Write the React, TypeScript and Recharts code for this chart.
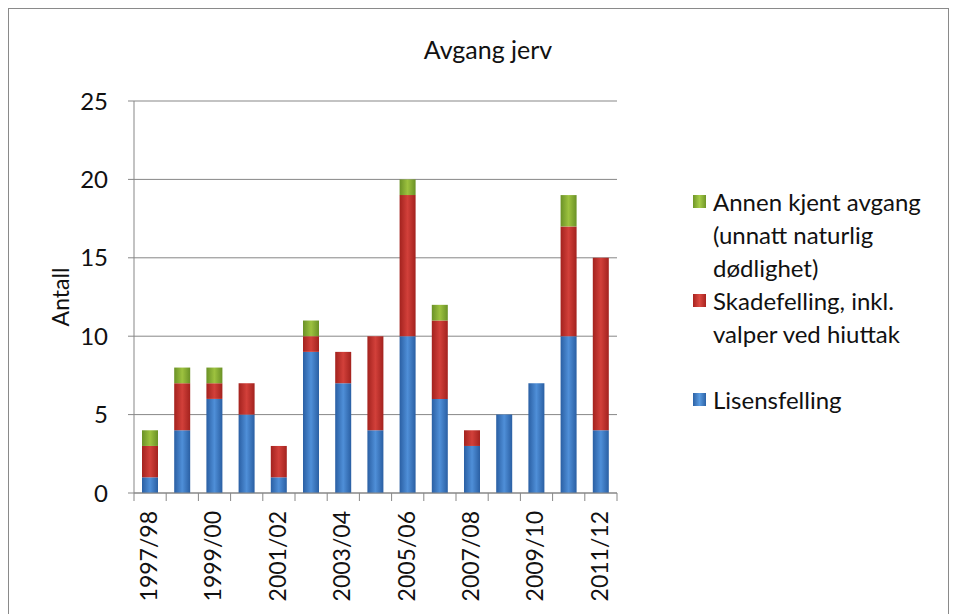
import React from "react";
import {
  BarChart,
  Bar,
  XAxis,
  YAxis,
  CartesianGrid,
  Label,
} from "recharts";

// sesonger (jaktår)
const seasons = [
  "1997/98", "1998/99", "1999/00", "2000/01", "2001/02",
  "2002/03", "2003/04", "2004/05", "2005/06", "2006/07",
  "2007/08", "2008/09", "2009/10", "2010/11", "2011/12",
];

// antall per kategori, lest av figuren
const lisensfelling = [1, 4, 6, 5, 1, 9, 7, 4, 10, 6, 3, 5, 7, 10, 4];
const skadefelling = [2, 3, 1, 2, 2, 1, 2, 6, 9, 5, 1, 0, 0, 7, 11];
const annenAvgang = [1, 1, 1, 0, 0, 1, 0, 0, 1, 1, 0, 0, 0, 2, 0];

const yTicks = [0, 5, 10, 15, 20, 25];

const data = seasons.map((s, i) => ({
  season: s,
  lisens: lisensfelling[i],
  skade: skadefelling[i],
  annen: annenAvgang[i],
}));

const FONT = "Lato, 'Open Sans', sans-serif";
const AXIS = "#878787";

const CHART_W = 939;
const MARGIN = { top: 92, right: 331, bottom: 30, left: 0 };
const Y_W = 125;
const BAND = (CHART_W - MARGIN.right - MARGIN.left - Y_W) / seasons.length;

const legendItems = [
  { key: "annen", c1: "#6f9628", c2: "#a6cc48", lines: ["Annen kjent avgang", "(unnatt naturlig", "dødlighet)"], rows: 3 },
  { key: "skade", c1: "#a8231f", c2: "#db4a42", lines: ["Skadefelling, inkl.", "valper ved hiuttak"], rows: 3 },
  { key: "lisens", c1: "#2c62a6", c2: "#5a9be0", lines: ["Lisensfelling"], rows: 1 },
];

const LINE = 33;

function CustomLegend() {
  return (
    <div
      style={{
        position: "absolute",
        left: 681,
        top: 176,
        width: 260,
        fontFamily: FONT,
        fontSize: 24,
        color: "#111",
      }}
    >
      {legendItems.map((it) => (
        <div key={it.key} style={{ position: "relative", height: it.rows * LINE, paddingLeft: 23 }}>
          <span
            style={{
              position: "absolute",
              left: 3,
              top: 10,
              width: 13,
              height: 13,
              background: `linear-gradient(to right, ${it.c1}, ${it.c2} 50%, ${it.c1})`,
            }}
          />
          {it.lines.map((l) => (
            <div key={l} style={{ height: LINE, lineHeight: `${LINE}px`, whiteSpace: "nowrap" }}>{l}</div>
          ))}
        </div>
      ))}
    </div>
  );
}

// tick mellom kategoriene (Excel-stil) + hver andre etikett
function SeasonTick(props: any) {
  const { x, y, payload, index } = props;
  const left = x - BAND / 2;
  const ty = y + 18;
  return (
    <g>
      <line x1={left} x2={left} y1={y} y2={y + 8} stroke={AXIS} />
      {index === seasons.length - 1 && (
        <line x1={x + BAND / 2} x2={x + BAND / 2} y1={y} y2={y + 8} stroke={AXIS} />
      )}
      {index % 2 === 0 && (
        <text
          x={x}
          y={ty}
          transform={`rotate(-90, ${x}, ${ty})`}
          textAnchor="end"
          dy="0.3em"
          fontFamily={FONT}
          fontSize={23}
          fill="#111"
        >
          {payload.value}
        </text>
      )}
    </g>
  );
}

export default function App() {
  return (
    <div
      style={{
        position: "relative",
        width: 941,
        height: 640,
        border: "1px solid #8a8a8a",
        background: "#fff",
        boxSizing: "border-box",
      }}
    >
      <div
        style={{
          position: "absolute",
          left: 0,
          width: 958,
          top: 25,
          textAlign: "center",
          fontFamily: FONT,
          fontSize: 25,
          color: "#111",
        }}
      >
        Avgang jerv
      </div>
      <BarChart
        width={CHART_W}
        height={638}
        data={data}
        margin={MARGIN}
        barSize={16}
      >
        <defs>
          <linearGradient id="gBlue" x1="0" y1="0" x2="1" y2="0">
            <stop offset="0%" stopColor="#2a5fa3" />
            <stop offset="50%" stopColor="#4f8fd8" />
            <stop offset="100%" stopColor="#2a5fa3" />
          </linearGradient>
          <linearGradient id="gRed" x1="0" y1="0" x2="1" y2="0">
            <stop offset="0%" stopColor="#a3221e" />
            <stop offset="50%" stopColor="#d2403a" />
            <stop offset="100%" stopColor="#a3221e" />
          </linearGradient>
          <linearGradient id="gGreen" x1="0" y1="0" x2="1" y2="0">
            <stop offset="0%" stopColor="#6a9126" />
            <stop offset="50%" stopColor="#9dc23f" />
            <stop offset="100%" stopColor="#6a9126" />
          </linearGradient>
        </defs>
        <CartesianGrid vertical={false} stroke={AXIS} strokeWidth={1} />
        <XAxis
          dataKey="season"
          interval={0}
          tickLine={false}
          axisLine={{ stroke: AXIS }}
          tickSize={0}
          tickMargin={0}
          height={124}
          tick={<SeasonTick />}
        />
        <YAxis
          domain={[0, 25]}
          ticks={yTicks}
          width={Y_W}
          tickSize={6}
          tickMargin={20}
          tickLine={{ stroke: AXIS }}
          axisLine={{ stroke: AXIS }}
          tick={{ fontFamily: FONT, fontSize: 24, fill: "#111" }}
        >
          <Label
            content={({ viewBox }: any) => {
              const cx = viewBox.x + 52;
              const cy = viewBox.y + viewBox.height / 2;
              return (
                <text
                  x={cx}
                  y={cy}
                  transform={`rotate(-90, ${cx}, ${cy})`}
                  textAnchor="middle"
                  dy="0.35em"
                  fontFamily={FONT}
                  fontSize={23}
                  fill="#111"
                >
                  Antall
                </text>
              );
            }}
          />
        </YAxis>
        <Bar dataKey="lisens" name="Lisensfelling" stackId="a" fill="url(#gBlue)" isAnimationActive={false} />
        <Bar dataKey="skade" name="Skadefelling, inkl. valper ved hiuttak" stackId="a" fill="url(#gRed)" isAnimationActive={false} />
        <Bar dataKey="annen" name="Annen kjent avgang (unnatt naturlig dødlighet)" stackId="a" fill="url(#gGreen)" isAnimationActive={false} />
      </BarChart>
      <CustomLegend />
    </div>
  );
}
